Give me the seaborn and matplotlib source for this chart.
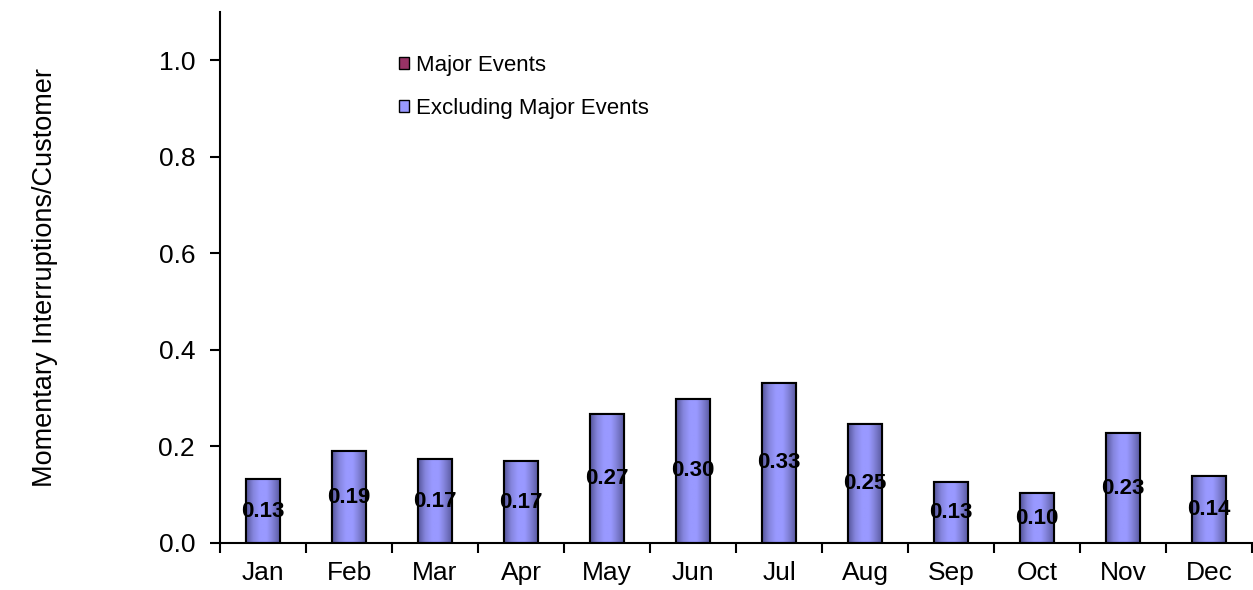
import numpy as np
import pandas as pd
import seaborn as sns
import matplotlib.pyplot as plt
from matplotlib.patches import Patch, Rectangle
from matplotlib.colors import LinearSegmentedColormap

# Datos
months = ["Jan", "Feb", "Mar", "Apr", "May", "Jun",
          "Jul", "Aug", "Sep", "Oct", "Nov", "Dec"]
excluding_major = [0.13, 0.19, 0.17, 0.17, 0.27, 0.30,
                   0.33, 0.25, 0.13, 0.10, 0.23, 0.14]
major_events = [0, 0, 0, 0, 0, 0, 0, 0, 0, 0, 0, 0]
bar_heights = [0.132, 0.190, 0.173, 0.169, 0.268, 0.299,
               0.332, 0.247, 0.126, 0.103, 0.227, 0.138]

df = pd.DataFrame({"month": months, "value": bar_heights,
                   "label": excluding_major, "major": major_events})

sns.set_style("white")
plt.rcParams["font.family"] = ["Liberation Sans", "DejaVu Sans"]

fig = plt.figure(figsize=(12.53, 5.9), dpi=100)
ax = fig.add_axes([0.1756, 0.0797, 0.8236, 0.9])

sns.barplot(data=df, x="month", y="value", color="#9999FF",
            saturation=1, width=0.4, edgecolor="black", linewidth=1.5, ax=ax)
bars = list(ax.patches)

# Degradado horizontal tipo Excel (bordes oscuros, centro claro)
grad_cmap = LinearSegmentedColormap.from_list(
    "excel", ["#55559A", "#8585DD", "#9999FF", "#9999FF", "#7C7CD0", "#55559A"])
grad = np.linspace(0, 1, 64).reshape(1, -1)
for p in bars:
    x, y = p.get_x(), p.get_y()
    w, h = p.get_width(), p.get_height()
    im = ax.imshow(grad, extent=[x, x + w, y, y + h], aspect="auto",
                   cmap=grad_cmap, zorder=p.get_zorder() + 0.1,
                   interpolation="bilinear")
    im.set_clip_path(p)
    ax.add_patch(Rectangle((x, y), w, h, fill=False, edgecolor="black",
                           linewidth=1.5, zorder=p.get_zorder() + 0.2))

# Serie de eventos mayores (todo cero), apilada encima
ax.bar(np.arange(len(months)), df["major"], bottom=df["value"], width=0.4,
       color="#993366", edgecolor="black", linewidth=0)

# Etiquetas de datos en el centro de cada barra
for i, (h, lab) in enumerate(zip(df["value"], df["label"])):
    ax.text(i, h / 2, f"{lab:.2f}", ha="center", va="center",
            fontsize=16, fontweight="bold", color="black", zorder=5)

ax.set_xlim(-0.5, 11.5)
ax.set_ylim(0, 1.1)
ax.set_yticks(np.arange(0, 1.01, 0.2))
ax.set_yticklabels([f"{v:.1f}" for v in np.arange(0, 1.01, 0.2)])

# ticks del eje x entre categorías
ax.set_xticks(np.arange(-0.5, 12, 1), minor=True)
ax.tick_params(axis="x", which="major", length=0, pad=13, labelsize=19,
               labelcolor="black")
ax.tick_params(axis="x", which="minor", length=7, width=1.5, direction="out",
               bottom=True, color="black")
ax.tick_params(axis="y", length=7, width=1.5, direction="out", left=True,
               pad=11, labelsize=19, labelcolor="black", color="black")

for side in ["top", "right"]:
    ax.spines[side].set_visible(False)
for side in ["left", "bottom"]:
    ax.spines[side].set_linewidth(1.5)
    ax.spines[side].set_color("black")
    ax.spines[side].set_zorder(6)

ax.set_xlabel("")
ax.set_ylabel("Momentary Interruptions/Customer", fontsize=19.5, color="black")
ax.yaxis.set_label_coords(-0.157, 0.5)

handles = [Patch(facecolor="#993366", edgecolor="black", linewidth=1),
           Patch(facecolor="#9999FF", edgecolor="black", linewidth=1)]
leg = ax.legend(handles, ["Major Events", "Excluding Major Events"],
                loc="upper left", bbox_to_anchor=(0.154, 0.957), frameon=False,
                fontsize=16, handlelength=0.45, handleheight=0.45,
                handletextpad=0.3, labelspacing=1.0)
for t in leg.get_texts():
    t.set_color("black")

plt.savefig("out.png", dpi=100)
